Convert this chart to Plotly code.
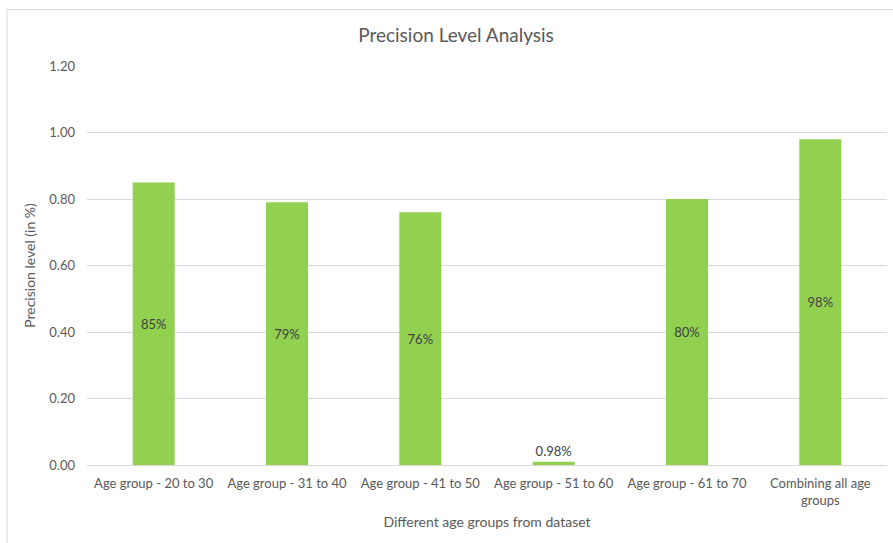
import plotly.graph_objects as go

# Precision per age group (fraction of 1)
categories = [
    "Age group - 20 to 30",
    "Age group - 31 to 40",
    "Age group - 41 to 50",
    "Age group - 51 to 60",
    "Age group - 61 to 70",
    "Combining all age<br>groups",
]
precision = [0.85, 0.79, 0.76, 0.0098, 0.80, 0.98]

def pct_label(v):
    return f"{v * 100:.2f}%" if v < 0.1 else f"{v * 100:.0f}%"

labels = [pct_label(v) for v in precision]
positions = ["outside" if v < 0.1 else "inside" for v in precision]

FONT = "Lato, Open Sans, sans-serif"
GREY = "#595959"

W, H = 893, 543
L, R, T, B = 87, 6, 66, 78

fig = go.Figure(
    go.Bar(
        x=categories,
        y=precision,
        marker=dict(color="#92D050", line=dict(width=0)),
        text=labels,
        textposition=positions,
        insidetextanchor="middle",
        textfont=dict(family=FONT, size=13, color="#404040"),
        cliponaxis=False,
    )
)

# outer chart frame (extends past the right/bottom edge of the page)
pw, ph = W - L - R, H - T - B
fig.add_shape(
    type="rect", xref="paper", yref="paper",
    x0=(7 - L) / pw, x1=(W + 20 - L) / pw,
    y0=-(H + 20 - (H - B)) / ph, y1=(H - B - 9.5) / ph,
    line=dict(color="#D9D9D9", width=1), fillcolor="rgba(0,0,0,0)", layer="below",
)

fig.update_layout(
    width=W, height=H,
    margin=dict(l=L, r=R, t=T, b=B),
    paper_bgcolor="white", plot_bgcolor="white",
    bargap=0.685,
    showlegend=False,
    uniformtext=dict(minsize=13, mode="show"),
    font=dict(family=FONT, size=13, color=GREY),
    title=dict(
        text="Precision Level Analysis",
        x=456 / W, xanchor="center",
        y=1 - 35 / H, yanchor="middle",
        font=dict(family=FONT, size=19, color=GREY),
    ),
    xaxis=dict(
        showgrid=False,
        showline=True, linecolor="#D9D9D9", linewidth=1,
        ticks="", tickfont=dict(size=13, color=GREY),
        ticklabelstandoff=6,
        title=dict(text="Different age groups from dataset",
                   font=dict(size=14, color=GREY), standoff=10),
    ),
    yaxis=dict(
        range=[0, 1.2], dtick=0.2, tickformat=".2f",
        showgrid=True, gridcolor="#D9D9D9", gridwidth=1,
        zeroline=False, showline=False, ticks="",
        tickfont=dict(size=13, color=GREY),
        ticklabelstandoff=11,
        title=dict(text="Precision level (in %)",
                   font=dict(size=14, color=GREY), standoff=10),
    ),
)

fig.write_html("out.html")
